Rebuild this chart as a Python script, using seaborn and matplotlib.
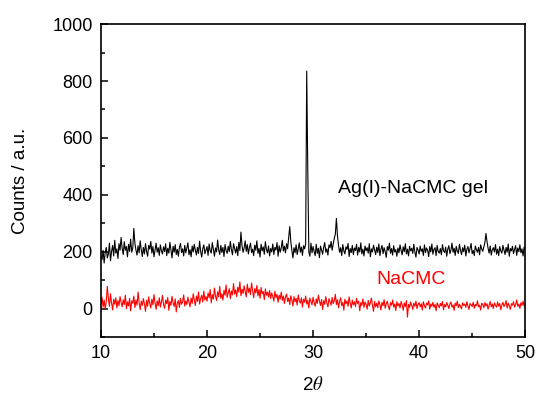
"""
XRD patterns of NaCMC and the Ag(I)-NaCMC gel, 2theta 10-50.
"""

import matplotlib
matplotlib.use("Agg")
import matplotlib.pyplot as plt  # noqa: E402
import numpy as np  # noqa: E402
import pandas as pd  # noqa: E402
import seaborn as sns  # noqa: E402
from matplotlib.ticker import MultipleLocator  # noqa: E402

# 2theta grid, 0.1 deg step from 10 to 50
TWO_THETA = np.round(np.linspace(10.0, 50.0, 401), 1)

# counts, one row per 2 deg
GEL_COUNTS = [
    185, 172, 205, 160, 198, 215, 178, 192, 230, 168, 201, 222, 185, 240, 195, 210, 176, 228, 205, 250,
    212, 190, 235, 205, 218, 182, 226, 201, 244, 198, 213, 282, 230, 205, 188, 221, 196, 238, 207, 183,
    215, 192, 228, 201, 184, 222, 209, 236, 195, 218, 182, 205, 230, 198, 214, 187, 224, 203, 192, 217,
    200, 228, 186, 212, 195, 233, 204, 178, 219, 198, 225, 190, 208, 184, 216, 229, 197, 210, 185, 222,
    196, 214, 231, 189, 207, 182, 220, 199, 226, 205, 188, 215, 194, 237, 201, 181, 211, 224, 193, 206,
    218, 187, 227, 203, 195, 232, 208, 184, 213, 199, 241, 206, 190, 222, 197, 215, 183, 225, 204, 194,
    219, 200, 236, 207, 189, 228, 211, 195, 218, 186, 233, 204, 269, 221, 198, 213, 238, 201, 225, 192,
    214, 230, 197, 209, 186, 223, 205, 238, 194, 212, 181, 226, 203, 217, 191, 235, 208, 196, 220, 185,
    211, 199, 227, 190, 215, 206, 232, 184, 221, 198, 213, 240, 202, 219, 196, 228, 210, 248, 288, 236,
    205, 178, 214, 196, 224, 190, 209, 231, 198, 216, 187, 221, 210, 228, 835, 490, 199, 184, 230, 196,
    218, 201, 186, 226, 194, 212, 179, 220, 205, 191, 216, 232, 198, 210, 188, 224, 214, 236, 205, 228,
    246, 262, 317, 255, 222, 198, 214, 186, 225, 203, 192, 217, 208, 229, 183, 211, 197, 222, 190, 213,
    204, 226, 188, 215, 199, 231, 192, 209, 185, 220, 203, 214, 195, 228, 182, 210, 199, 223, 206, 190,
    216, 197, 227, 186, 209, 222, 193, 214, 201, 180, 218, 205, 230, 194, 211, 188, 221, 199, 207, 184,
    213, 196, 224, 204, 189, 217, 200, 228, 192, 209, 185, 219, 203, 212, 194, 226, 198, 181, 215, 206,
    192, 220, 201, 210, 187, 224, 197, 213, 205, 183, 218, 199, 227, 191, 208, 214, 186, 222, 200, 195,
    211, 189, 225, 203, 197, 216, 184, 209, 221, 193, 206, 230, 198, 212, 187, 219, 202, 194, 226, 205,
    190, 214, 200, 223, 185, 208, 218, 196, 211, 229, 193, 204, 186, 220, 207, 198, 215, 189, 224, 210,
    201, 217, 232, 264, 236, 212, 195, 220, 188, 207, 214, 199, 225, 191, 209, 186, 218, 203, 195, 222,
    206, 190, 215, 198, 227, 184, 211, 203, 219, 193, 208, 221, 187, 213, 200, 224, 196, 210, 185, 216,
    204,
]

NACMC_COUNTS = [
    18, 40, 5, 30, -2, 25, 78, 35, 8, 52, 20, -5, 33, 15, 38, 2, 28, 10, 42, 22,
    6, 31, 14, 47, 0, 24, 9, 36, -8, 27, 19, 44, 3, 30, 12, 58, 21, -4, 26, 11,
    35, 16, -10, 29, 8, 41, 18, 2, 33, 13, 49, 20, -3, 27, 10, 38, 5, 23, 46, 14,
    1, 30, 17, 39, -6, 25, 11, 43, 21, 7, 34, -12, 19, 28, 4, 36, 15, 24, 48, 9,
    27, 14, 40, 22, 6, 37, 18, 52, 29, 11, 44, 25, 58, 16, 35, 47, 23, 61, 30, 42,
    26, 55, 38, 67, 20, 49, 33, 72, 44, 28, 59, 41, 78, 36, 52, 30, 65, 47, 83, 39,
    56, 70, 35, 62, 48, 88, 51, 66, 42, 75, 58, 94, 45, 68, 53, 80, 60, 41, 86, 57,
    72, 49, 90, 63, 38, 70, 55, 81, 44, 67, 36, 74, 52, 60, 31, 69, 47, 58, 40, 64,
    35, 55, 43, 26, 61, 38, 50, 22, 47, 33, 58, 29, 44, 18, 40, 51, 25, 37, 14, 45,
    30, 9, 42, 24, 36, 12, 48, 27, 19, 38, 5, 33, 22, 44, 16, 29, 2, 37, 25, 13,
    40, 21, 8, 34, 18, 47, 26, 11, 32, -3, 28, 15, 42, 20, 6, 35, 24, 12, 39, 17,
    28, 50, 14, 31, 3, 25, 38, 10, 22, -6, 33, 17, 27, 8, 41, 19, 2, 30, 13, 24,
    7, 36, 18, 26, -8, 21, 11, 34, 4, 23, 15, -2, 29, 9, 20, 37, 12, -10, 25, 6,
    19, 3, 27, 14, -5, 22, 10, 31, 1, 17, 26, 8, -4, 21, 12, 30, 5, 16, -7, 24,
    9, 18, 2, 25, 13, -6, 20, 7, 28, -30, 15, 4, 23, 11, -3, 19, 8, 26, 0, 14,
    21, 6, 17, -5, 24, 10, 2, 19, 13, 27, -2, 16, 8, 22, 4, 15, -8, 20, 11, 3,
    18, 9, 25, -4, 14, 6, 21, 12, 0, 17, 23, 5, 13, -6, 19, 10, 26, 3, 15, 8,
    -1, 20, 11, 16, 4, 24, 9, -3, 18, 13, 7, 22, 1, 15, 10, 27, 6, 12, -5, 19,
    14, 3, 21, 9, 17, -2, 12, 25, 6, 16, 0, 20, 11, 5, 23, 8, 18, -4, 13, 22,
    7, 15, 28, 2, 19, 10, -3, 17, 12, 24, 5, 14, 30, 8, 16, 1, 21, 11, 26, 9,
    15,
]

GEL_LABEL = "Ag(I)-NaCMC gel"
NACMC_LABEL = "NaCMC"


def main() -> None:
    sns.set_style("ticks")
    plt.rcParams["font.family"] = ["Liberation Sans", "DejaVu Sans"]
    plt.rcParams["mathtext.fontset"] = "stix"
    plt.rcParams["xtick.direction"] = "in"
    plt.rcParams["ytick.direction"] = "in"
    plt.rcParams["text.color"] = "black"
    plt.rcParams["axes.labelcolor"] = "black"
    plt.rcParams["xtick.color"] = "black"
    plt.rcParams["ytick.color"] = "black"

    df = pd.DataFrame({
        "two_theta": np.concatenate([TWO_THETA, TWO_THETA]),
        "counts": GEL_COUNTS + NACMC_COUNTS,
        "sample": [GEL_LABEL] * len(GEL_COUNTS) + [NACMC_LABEL] * len(NACMC_COUNTS),
    })

    fig = plt.figure(figsize=(5.37, 3.96), dpi=100)
    ax = fig.add_axes([0.188, 0.149, 0.790, 0.790])

    sns.lineplot(
        data=df,
        x="two_theta",
        y="counts",
        hue="sample",
        palette={GEL_LABEL: "black", NACMC_LABEL: "#ff0000"},
        estimator=None,
        sort=False,
        linewidth=0.8,
        legend=False,
        ax=ax,
    )

    ax.set_xlim(10, 50)
    ax.set_ylim(-100, 1000)
    ax.xaxis.set_major_locator(MultipleLocator(10))
    ax.xaxis.set_minor_locator(MultipleLocator(5))
    ax.yaxis.set_major_locator(MultipleLocator(200))
    ax.yaxis.set_minor_locator(MultipleLocator(100))
    ax.tick_params(which="major", length=5, width=1.1, labelsize=13, pad=6)
    ax.tick_params(which="minor", length=3, width=1.1)
    for sp in ax.spines.values():
        sp.set_linewidth(1.2)
        sp.set_color("black")

    ax.set_xlabel("2$\\theta$", fontsize=13.5, labelpad=10)
    ax.set_ylabel("Counts / a.u.", fontsize=13.5, labelpad=17)

    ax.text(39.43, 408, GEL_LABEL, fontsize=14, color="black", ha="center", va="baseline")
    ax.text(39.25, 88, NACMC_LABEL, fontsize=14, color="#ff0000", ha="center", va="baseline")

    fig.savefig("out.png", dpi=100)
    plt.close(fig)


if __name__ == "__main__":
    main()
